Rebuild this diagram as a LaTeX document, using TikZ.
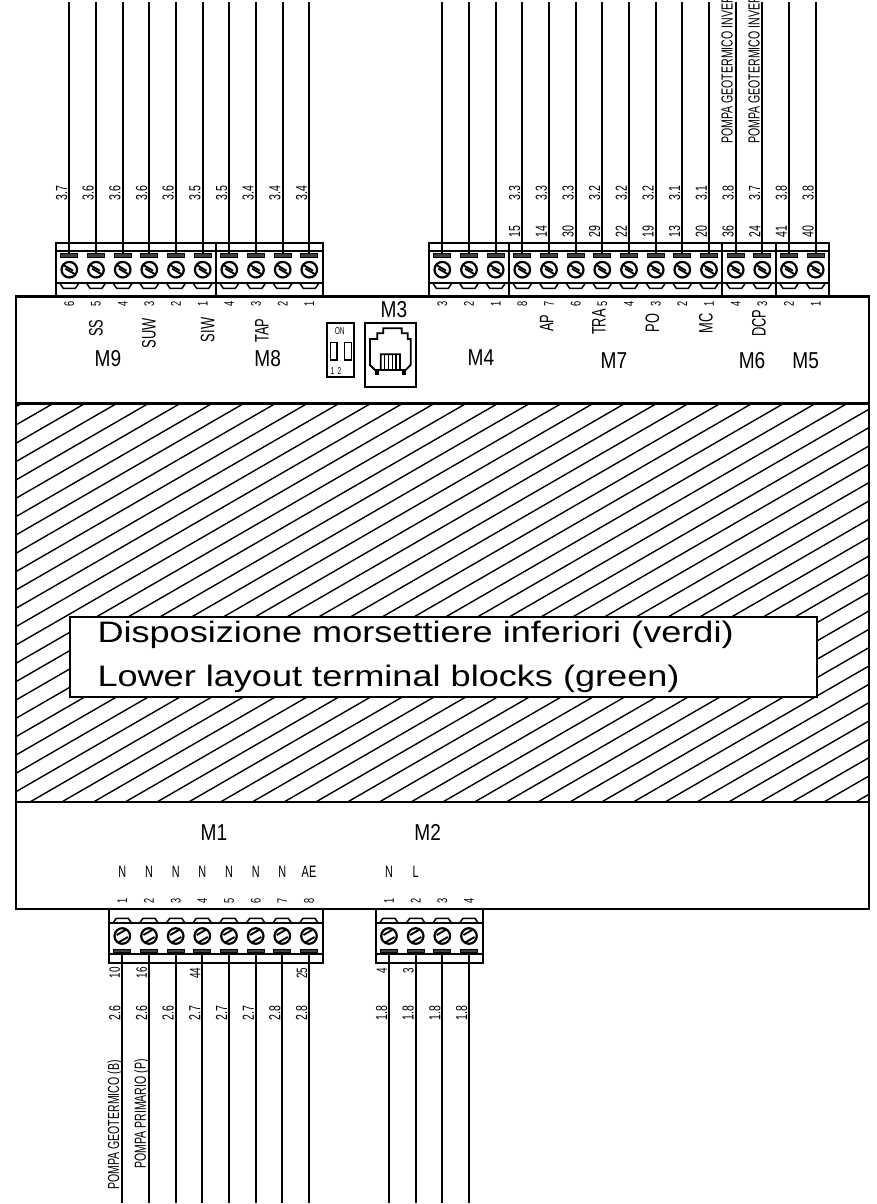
\documentclass[tikz,border=0pt]{standalone}
\usepackage{fontspec}
\setmainfont[FakeStretch=1.22]{Liberation Sans}
\newfontfamily\narrowf[FakeStretch=0.66]{Liberation Sans}
\newfontfamily\midf[FakeStretch=0.83]{Liberation Sans}
\tikzset{
  wire/.style={line width=2.1pt,line cap=butt},
  frame/.style={line width=2.1pt},
  hatchline/.style={line width=1.4pt},
  thinline/.style={line width=1.9pt},
  lab/.style={inner sep=0pt,rotate=90,font=\narrowf\fontsize{16}{16}\selectfont},
  lowlab/.style={inner sep=0pt,rotate=90,font=\narrowf\fontsize{15}{15}\selectfont},
  num/.style={inner sep=0pt,rotate=90,font=\narrowf\fontsize{14}{14}\selectfont},
  sig/.style={inner sep=0pt,rotate=90,font=\narrowf\fontsize{19.5}{19.5}\selectfont},
  flat/.style={inner sep=0pt,font=\narrowf\fontsize{16.5}{16.5}\selectfont},
  mlabel/.style={inner sep=0pt,font=\midf\fontsize{23}{23}\selectfont},
  tiny/.style={inner sep=0pt,font=\narrowf\fontsize{10}{10}\selectfont},
  title/.style={inner sep=0pt,anchor=base west,font=\fontsize{29.6}{29.6}\selectfont},
}
\begin{document}
\begin{tikzpicture}[x=1pt,y=-1pt]
\useasboundingbox (0,0) rectangle (876,1204);
% hatch
\begin{scope}
\clip (16,403.5) rectangle (869,802);
\foreach \k in {-1,...,49}{
  \pgfmathsetmacro{\c}{752+31.76*\k}
  \pgfmathsetmacro{\xa}{\c-1.732*395}
  \pgfmathsetmacro{\xb}{\c-1.732*810}
  \draw[hatchline] (\xa,395) -- (\xb,810);
}
\end{scope}
% body
\draw[frame] (16,296.5) rectangle (869,909);
\draw[frame] (16,403.5) -- (869,403.5);
\draw[frame] (16,802) -- (869,802);
% title box
\node[draw,fill=white,line width=1.9pt,minimum width=746.4pt,minimum height=80pt,inner sep=0pt,anchor=north west] (titlebox) at (69.3,616) {};
\node[title] (titleA) at (97.3,642.7) {Disposizione morsettiere inferiori (verdi)};
\node[title] (titleB) at (97.3,686.7) {Lower layout terminal blocks (green)};
% top blocks frames
\foreach \xa/\xb in {55.7/215.7,215.7/322.7,429/509,509/721.7,721.7/775.7,775.7/829}{
  \draw[frame,fill=white] (\xa,242.7) rectangle (\xb,296.5);
  \draw[thinline] (\xa,251) -- (\xb,251);
  \draw[thinline] (\xa,283.3) -- (\xb,283.3);
}
% top terminals
\foreach \x/\n [count=\i] in {69.3/6,96/5,122.7/4,149.3/3,176/2,202.7/1,229.3/4,256/3,282.7/2,309.3/1,442.3/3,469/2,495.7/1,522.3/8,549/7,575.7/6,602.3/5,629/4,655.7/3,682.3/2,709/1,735.7/4,762.3/3,789/2,815.7/1}{
  \coordinate (tw\i) at (\x,2);
  \coordinate (tb\i) at (\x,255);
  \draw[wire] (tw\i) -- (tb\i);
  \draw[line width=1pt,fill=black!75] (\x-8.5,253.5) rectangle (\x+8.5,257);
  \draw[line width=2.2pt,fill=white] (\x,269.7) circle[radius=7.8pt];
  \draw[line width=1.9pt] (\x-5.6,265.2) -- (\x+3.9,270.7);
  \draw[line width=1.9pt] (\x-3.9,268.7) -- (\x+5.6,274.2);
  \draw[line width=1.5pt] (\x-9,284) -- (\x-6,288.3) -- (\x+6,288.3) -- (\x+9,284);
  \node[num] (tn\i) at (\x,304) {\n};
}
% top wire labels
\foreach \x/\t in {61.5/3.7,88.2/3.6,114.9/3.6,141.5/3.6,168.2/3.6,194.9/3.5,221.5/3.5,248.2/3.4,274.9/3.4,301.5/3.4,514.7/3.3,541.4/3.3,568/3.3,594.7/3.2,621.4/3.2,648/3.2,674.7/3.1,701.4/3.1,728/3.8,754.7/3.7,781.4/3.8,808/3.8}{
  \node[lab] at (\x,193) {\t};
}
\foreach \x/\t in {514.7/15,541.4/14,568/30,594.7/29,621.4/22,648/19,674.7/13,701.4/20,728/36,754.7/24,781.4/41,808/40}{
  \node[lab] at (\x,231.7) {\t};
}
\node[lab,anchor=west] (pgA) at (727,144) {POMPA GEOTERMICO INVER};
\node[lab,anchor=west] (pgB) at (754,144) {POMPA GEOTERMICO INVER};
% signal names
\foreach \x/\y/\t in {96/328/SS,149/333/SUW,207.7/330/SIW,262/330.7/TAP,546.7/323/AP,599/322/TRA,652.3/323/PO,706/323/MC,759/323/DCP}{
  \node[sig] at (\x,\y) {\t};
}
% block names
\foreach \x/\y/\t in {108/358.3/M9,267.7/358.3/M8,394/310/M3,481/357.7/M4,614/361/M7,752/361/M6,805.7/361/M5,214/832.7/M1,427.7/832.7/M2}{
  \node[mlabel] at (\x,\y) {\t};
}
% DIP switch
\draw[frame] (326.7,322.7) rectangle (354.3,376.7);
\draw[line width=1.6pt] (330.3,342.3) rectangle (336.7,360);
\draw[line width=1.6pt] (344.6,342.3) rectangle (351.5,360);
\node[tiny] (dipon) at (339.7,331.5) {ON};
\node[tiny] (dipa) at (332.5,371.3) {1};
\node[tiny] (dipb) at (339.5,371.3) {2};
% RJ socket
\draw[frame] (365,322.7) rectangle (416,387.3);
\draw[line width=1.8pt] (375,370) -- (370,365) -- (370,339) -- (377.3,339) -- (377.3,333.3) -- (383.3,333.3) -- (383.3,328.3) -- (401.7,328.3) -- (401.7,333.3) -- (407.7,333.3) -- (407.7,339) -- (410.7,339) -- (410.7,365) -- (405.7,370) -- (400,370) -- (400,354.3) -- (380.7,354.3) -- (380.7,370) -- cycle;
\foreach \x in {384.6,388.5,392.3,396.2}{
  \draw[line width=1.6pt] (\x,354.3) -- (\x,369);
}
\draw[line width=1.6pt] (380.7,370) -- (400,370);
\fill (374.9,370.5) rectangle (378.9,374.5);
\fill (402.2,370.5) rectangle (406.2,374.5);
% bottom blocks
\foreach \xa/\xb in {109/322.7,375.7/482.7}{
  \draw[frame,fill=white] (\xa,909) rectangle (\xb,962.7);
  \draw[thinline] (\xa,923.3) -- (\xb,923.3);
  \draw[thinline] (\xa,954) -- (\xb,954);
}
\foreach \x/\n/\t/\tt [count=\i] in {122.3/1/N/2.6,149/2/N/2.6,175.7/3/N/2.6,202.3/4/N/2.7,229/5/N/2.7,255.7/6/N/2.7,282.3/7/N/2.8,309/8/AE/2.8,389/1/N/1.8,415.7/2/L/1.8,442.3/3//1.8,469/4//1.8}{
  \coordinate (bb\i) at (\x,950.7);
  \coordinate (bw\i) at (\x,1202.7);
  \draw[wire] (bb\i) -- (bw\i);
  \draw[line width=1pt,fill=black!75] (\x-8.5,949) rectangle (\x+8.5,952.5);
  \draw[line width=2.2pt,fill=white] (\x,936) circle[radius=7.8pt];
  \draw[line width=1.9pt] (\x-5.6,935) -- (\x+3.9,929.5);
  \draw[line width=1.9pt] (\x-3.9,942.5) -- (\x+5.6,937);
  \draw[line width=1.5pt] (\x-9,922.6) -- (\x-6,918.3) -- (\x+6,918.3) -- (\x+9,922.6);
  \node[num] (bn\i) at (\x,901) {\n};
  \node[flat] (bs\i) at (\x,871.7) {\t};
  \node[lab] (bl\i) at (\x-7.5,1013) {\tt};
}
\foreach \x/\y/\t in {114.8/972.5/10,141.7/972.5/16,195.3/973/44,302/973/25,382/971/4,408.5/971/3}{
  \node[lowlab] at (\x,\y) {\t};
}
\node[lab,anchor=west] (pgC) at (115,1190) {POMPA GEOTERMICO (B)};
\node[lab,anchor=west] (pgD) at (141.7,1169) {POMPA PRIMARIO (P)};
\end{tikzpicture}
\end{document}
